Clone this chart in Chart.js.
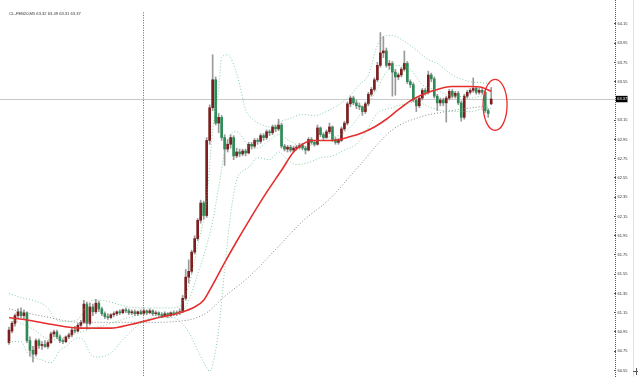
<!DOCTYPE html>
<html><head><meta charset="utf-8">
<script src="https://cdn.jsdelivr.net/npm/chart.js@4.4.1/dist/chart.umd.min.js"></script>
<style>html,body{margin:0;padding:0;background:#fff;overflow:hidden}#wrap{width:638px;height:377px;position:relative}</style>
</head><body><div id="wrap"><canvas id="c" width="638" height="377"></canvas></div>
<script>
const symbolTitle = 'CL-FEB20,M5 63.32 63.49 63.31 63.37';
const lastPrice = 63.37;
const crosshairBar = 44.6;

const opens = [60.84,60.96,61.04,61.12,61.16,61.12,61.15,60.86,60.76,60.72,
60.86,60.81,60.82,60.80,60.84,60.93,60.95,60.90,60.86,60.85,
60.90,60.92,60.97,60.96,61.02,61.05,61.24,61.04,61.21,61.16,
61.25,61.19,61.14,61.11,61.10,61.13,61.14,61.16,61.15,61.18,
61.17,61.15,61.16,61.14,61.16,61.14,61.17,61.15,61.17,61.14,
61.15,61.13,61.12,61.14,61.12,61.15,61.14,61.15,61.16,61.30,
61.52,61.58,61.78,61.92,62.11,62.29,62.16,62.94,63.28,63.57,
63.12,63.18,62.97,62.85,62.90,62.97,62.78,62.82,62.80,62.83,
62.81,62.90,62.88,62.94,62.93,62.99,62.97,63.03,63.02,63.08,
63.06,63.10,62.88,62.85,62.87,62.84,62.86,62.87,62.89,62.86,
62.84,62.95,62.92,62.90,63.07,63.00,62.97,63.03,63.08,62.95,
62.92,62.94,63.06,63.12,63.32,63.38,63.33,63.30,63.29,63.24,
63.32,63.42,63.47,63.57,63.72,63.85,63.87,63.72,63.74,63.65,
63.60,63.62,63.68,63.74,63.55,63.52,63.36,63.30,63.38,63.46,
63.44,63.62,63.58,63.40,63.33,63.36,63.33,63.38,63.45,63.40,
63.43,63.33,63.18,63.40,63.44,63.46,63.48,63.44,63.46,63.44,
63.25,63.32];
const highs = [61.00,61.06,61.14,61.19,61.20,61.18,61.16,60.90,60.80,60.88,
60.88,60.85,60.86,60.86,60.95,60.97,60.97,60.92,60.88,60.91,
60.94,60.99,61.01,61.04,61.07,61.28,61.26,61.25,61.24,61.29,
61.27,61.21,61.16,61.14,61.14,61.16,61.17,61.18,61.19,61.20,
61.19,61.18,61.18,61.17,61.18,61.19,61.18,61.19,61.18,61.17,
61.16,61.15,61.16,61.15,61.16,61.17,61.17,61.19,61.33,61.60,
61.70,61.80,61.95,62.13,62.32,62.31,62.97,63.31,63.83,63.60,
63.22,63.20,63.00,62.95,63.00,62.99,62.86,62.85,62.85,62.85,
62.92,62.92,62.96,62.96,63.01,63.01,63.05,63.05,63.10,63.10,
63.16,63.12,62.90,62.89,62.89,62.88,62.89,62.91,62.91,62.88,
62.97,62.97,62.94,63.10,63.08,63.02,63.05,63.12,63.09,62.97,
62.96,63.08,63.14,63.34,63.40,63.40,63.36,63.33,63.30,63.34,
63.44,63.49,63.59,63.75,64.06,64.02,63.90,63.77,63.76,63.68,
63.64,63.70,63.87,63.76,63.57,63.54,63.38,63.40,63.48,63.48,
63.66,63.64,63.60,63.42,63.38,63.38,63.40,63.47,63.47,63.45,
63.45,63.35,63.42,63.46,63.48,63.59,63.50,63.48,63.48,63.46,
63.27,63.49];
const lows = [60.82,60.94,61.01,61.09,61.10,61.08,60.84,60.70,60.64,60.70,
60.78,60.77,60.79,60.78,60.83,60.90,60.88,60.84,60.83,60.84,
60.88,60.90,60.94,60.95,61.00,61.04,60.98,61.02,61.12,61.14,
61.16,61.12,61.09,61.08,61.09,61.11,61.12,61.13,61.14,61.15,
61.13,61.13,61.12,61.12,61.13,61.13,61.13,61.14,61.12,61.12,
61.11,61.10,61.11,61.10,61.11,61.12,61.12,61.13,61.15,61.28,
61.46,61.56,61.76,61.90,62.08,62.12,62.14,62.90,63.25,63.10,
63.02,62.94,62.68,62.82,62.86,62.74,62.76,62.77,62.78,62.78,
62.80,62.85,62.86,62.90,62.91,62.94,62.95,62.99,63.00,63.03,
63.04,62.86,62.83,62.82,62.82,62.82,62.84,62.85,62.84,62.80,
62.83,62.90,62.88,62.89,62.98,62.95,62.96,63.01,62.93,62.90,
62.90,62.93,63.04,63.10,63.29,63.31,63.27,63.26,63.20,63.22,
63.30,63.40,63.45,63.55,63.70,63.80,63.70,63.68,63.40,63.41,
63.57,63.60,63.66,63.53,63.49,63.34,63.24,63.28,63.36,63.41,
63.42,63.55,63.38,63.25,63.30,63.30,63.13,63.36,63.38,63.38,
63.31,63.14,63.16,63.38,63.42,63.44,63.42,63.42,63.42,63.23,
63.18,63.31];
const closes = [60.97,61.04,61.12,61.16,61.12,61.15,60.86,60.76,60.72,60.86,
60.81,60.82,60.80,60.84,60.93,60.95,60.90,60.86,60.85,60.90,
60.92,60.97,60.96,61.02,61.05,61.24,61.04,61.21,61.16,61.25,
61.19,61.14,61.11,61.10,61.13,61.14,61.16,61.15,61.18,61.17,
61.15,61.16,61.14,61.16,61.14,61.17,61.15,61.17,61.14,61.15,
61.13,61.12,61.14,61.12,61.15,61.14,61.15,61.16,61.30,61.52,
61.58,61.78,61.92,62.11,62.29,62.16,62.94,63.28,63.57,63.12,
63.18,62.97,62.85,62.90,62.97,62.78,62.82,62.80,62.83,62.81,
62.90,62.88,62.94,62.93,62.99,62.97,63.03,63.02,63.08,63.06,
63.10,62.88,62.85,62.87,62.84,62.86,62.87,62.89,62.86,62.84,
62.95,62.92,62.90,63.07,63.00,62.97,63.03,63.08,62.95,62.92,
62.94,63.06,63.12,63.32,63.38,63.33,63.30,63.29,63.24,63.32,
63.42,63.47,63.57,63.72,63.85,63.87,63.72,63.74,63.65,63.60,
63.62,63.68,63.74,63.55,63.52,63.36,63.30,63.38,63.46,63.44,
63.62,63.58,63.40,63.33,63.36,63.33,63.38,63.45,63.40,63.43,
63.33,63.18,63.40,63.44,63.46,63.48,63.44,63.46,63.44,63.25,
63.22,63.37];

// indicator readings: [bar index, price]
const redMA = [[0,61.10],[7,61.07],[14,61.03],[24,60.99],[34,60.99],[41,61.03],[50,61.10],[57,61.15],[62,61.21],[65,61.28],[68,61.44],[72,61.67],[76,61.89],[80,62.10],[86,62.40],[91,62.63],[95,62.82],[98,62.90],[101,62.94],[104,62.94],[108,62.94],[114,62.98],[118,63.02],[122,63.08],[126,63.16],[130,63.26],[135,63.37],[141,63.45],[148,63.50],[154,63.50],[158,63.49],[161,63.45]];
const grayMA = [[0,61.19],[12,61.11],[24,61.05],[45,61.05],[59,61.07],[66,61.15],[72,61.32],[80,61.52],[90,61.84],[98,62.10],[107,62.33],[117,62.68],[128,63.05],[138,63.19],[144,63.23],[150,63.26],[160,63.30]];
const bandUpper = [[0,61.35],[5,61.30],[8,61.28],[13,61.20],[15,61.10],[18,61.06],[23,61.08],[26,61.23],[28,61.28],[31,61.28],[34,61.26],[40,61.21],[47,61.20],[54,61.20],[57,61.22],[60,61.43],[63,61.85],[66,62.32],[68,63.05],[70,63.47],[71,63.80],[73,63.83],[75,63.73],[77,63.52],[79,63.26],[81,63.17],[84,63.11],[87,63.08],[91,63.14],[94,63.17],[98,63.21],[102,63.20],[106,63.24],[110,63.31],[113,63.38],[117,63.52],[120,63.62],[123,63.93],[126,64.03],[128,64.03],[132,63.97],[136,63.88],[140,63.78],[143,63.74],[148,63.62],[154,63.55],[158,63.54],[161,63.53]];
const bandMiddle = [[0,61.10],[8,60.98],[14,60.87],[19,60.90],[24,60.95],[28,60.99],[32,61.02],[36,61.06],[40,61.10],[45,61.14],[50,61.15],[57,61.15],[60,61.28],[63,61.55],[66,61.85],[68,62.10],[70,62.45],[72,62.82],[74,63.00],[76,63.03],[78,62.97],[80,62.88],[83,62.86],[86,62.92],[90,63.00],[94,62.93],[98,62.88],[102,62.90],[106,62.97],[110,62.99],[114,63.08],[117,63.20],[120,63.32],[123,63.48],[126,63.65],[130,63.72],[134,63.68],[138,63.52],[142,63.47],[146,63.42],[150,63.40],[154,63.38],[158,63.40],[161,63.36]];
const bandLower = [[0,60.85],[4,60.85],[6,60.74],[8,60.69],[11,60.66],[14,60.63],[17,60.76],[19,60.80],[23,60.89],[25,60.86],[27,60.73],[30,60.69],[34,60.73],[38,60.87],[42,60.99],[46,61.08],[50,61.10],[55,61.10],[57,61.06],[60,60.95],[63,60.76],[66,60.58],[67,60.54],[68,60.61],[70,60.97],[72,61.60],[74,62.17],[76,62.53],[78,62.62],[80,62.66],[83,62.76],[87,62.74],[90,62.82],[93,62.74],[96,62.69],[100,62.71],[104,62.76],[108,62.78],[112,62.84],[116,62.90],[119,63.02],[123,63.22],[128,63.28],[132,63.32],[136,63.34],[141,63.28],[148,63.24],[154,63.24],[160,63.28],[161,63.27]];

const tickValues = [60.55,60.75,60.95,61.15,61.35,61.55,61.75,61.95,62.15,62.35,62.55,62.75,62.95,63.15,63.55,63.75,63.95,64.15];

// highlight ellipse around the last bars (data units)
const markCenterBar = 162.3, markCenterPrice = 63.31, markHalfBars = 4.0, markHalfPrice = 0.265;

const BULL = '#7d1e1e', BEAR = '#2e8b57';
const wickData = lows.map((l,i)=>({x:i, y:[l, highs[i]]}));
const bodyData = opens.map((o,i)=>({x:i, y:[o, closes[i]]}));
const bodyColors = opens.map((o,i)=> closes[i] >= o ? BULL : BEAR);
const pts = a => a.map(([i,v])=>({x:i,y:v}));

const deco = {
  id:'deco',
  beforeDatasetsDraw(chart){
    const {ctx, chartArea:a, scales:{x,y}} = chart;
    ctx.save();
    const yp = Math.round(y.getPixelForValue(lastPrice))+0.5;
    ctx.strokeStyle='#c9c9c9'; ctx.lineWidth=1;
    ctx.beginPath(); ctx.moveTo(a.left,yp); ctx.lineTo(a.right+2,yp); ctx.stroke();
    const xc = Math.round(x.getPixelForValue(crosshairBar))+0.5;
    ctx.strokeStyle='#666'; ctx.setLineDash([1,1.5]);
    ctx.beginPath(); ctx.moveTo(xc, y.getPixelForValue(64.27)); ctx.lineTo(xc,a.bottom); ctx.stroke();
    ctx.restore();
  },
  afterDraw(chart){
    const {ctx, chartArea:a, scales:{x,y}} = chart;
    ctx.save();
    const ax = a.right+1.5;
    ctx.strokeStyle='#555'; ctx.lineWidth=1; ctx.setLineDash([1,1]);
    ctx.beginPath(); ctx.moveTo(ax,a.top); ctx.lineTo(ax,a.bottom); ctx.stroke();
    ctx.setLineDash([]);
    ctx.strokeStyle='#e3e3e3';
    ctx.beginPath(); ctx.moveTo(633.5,0); ctx.lineTo(633.5,377); ctx.stroke();
    const yp = y.getPixelForValue(lastPrice);
    ctx.fillStyle='#000';
    ctx.fillRect(a.right+2, yp-3.2, 11.5, 6.4);
    ctx.fillStyle='#fff'; ctx.font='4px "Liberation Sans"'; ctx.textBaseline='middle'; ctx.textAlign='left';
    ctx.fillText(lastPrice.toFixed(2), a.right+3.2, yp+0.2);
    ctx.fillStyle='#333'; ctx.font='4.1px "Liberation Sans"'; ctx.textBaseline='alphabetic';
    ctx.fillText(symbolTitle, 9.3, 15.3);
    const cx = x.getPixelForValue(markCenterBar), cy = y.getPixelForValue(markCenterPrice);
    const rx = x.getPixelForValue(markCenterBar+markHalfBars)-cx;
    const ry = cy - y.getPixelForValue(markCenterPrice+markHalfPrice);
    ctx.strokeStyle='#ee2b2b'; ctx.lineWidth=1.3;
    ctx.beginPath(); ctx.ellipse(cx,cy,rx,ry,0,0,Math.PI*2); ctx.stroke();
    ctx.strokeStyle='#555'; ctx.lineWidth=1;
    ctx.beginPath(); ctx.moveTo(633,371.5); ctx.lineTo(639,371.5); ctx.moveTo(636.5,368); ctx.lineTo(636.5,375); ctx.stroke();
    ctx.restore();
  }
};

const lineDs = (data, color, width, dash) => ({
  type:'line', data: pts(data), borderColor: color, borderWidth: width, borderDash: dash,
  pointRadius:0, fill:false, cubicInterpolationMode:'monotone', order:0
});

new Chart(document.getElementById('c'), {
  type:'bar',
  data:{ datasets:[
    lineDs(bandUpper,'rgba(95,190,135,0.75)',1,[1,2]),
    lineDs(bandMiddle,'rgba(95,190,135,0.75)',1,[1,2]),
    lineDs(bandLower,'rgba(95,190,135,0.75)',1,[1,2]),
    lineDs(grayMA,'#888',1,[1,2]),
    lineDs(redMA,'#e62e2e',1.6,[]),
    { type:'bar', data: bodyData, backgroundColor: bodyColors, barThickness:2, grouped:false, minBarLength:1, order:1 },
    { type:'bar', data: wickData, backgroundColor:'#9a9a9a', barThickness:1, grouped:false, order:2 }
  ]},
  options:{
    responsive:false, animation:false, devicePixelRatio:1,
    layout:{padding:0},
    plugins:{legend:{display:false}, tooltip:{enabled:false}},
    scales:{
      x:{ type:'linear', min:-3, max:202, display:false, offset:false },
      y:{ position:'right', min:60.4825, max:64.399,
          afterBuildTicks: s => { s.ticks = tickValues.map(v=>({value:v})); },
          afterFit: s => { s.width = 24; s.paddingTop = 0; s.paddingBottom = 0; },
          grid:{ drawOnChartArea:false, drawTicks:true, tickLength:2, color:'#555' },
          border:{ display:false },
          ticks:{ padding:1.5, color:'#333', autoSkip:false, font:{size:4, family:'Liberation Sans'},
                  callback: v => Number(v).toFixed(2) }
      }
    }
  },
  plugins:[deco]
});
</script></body></html>
